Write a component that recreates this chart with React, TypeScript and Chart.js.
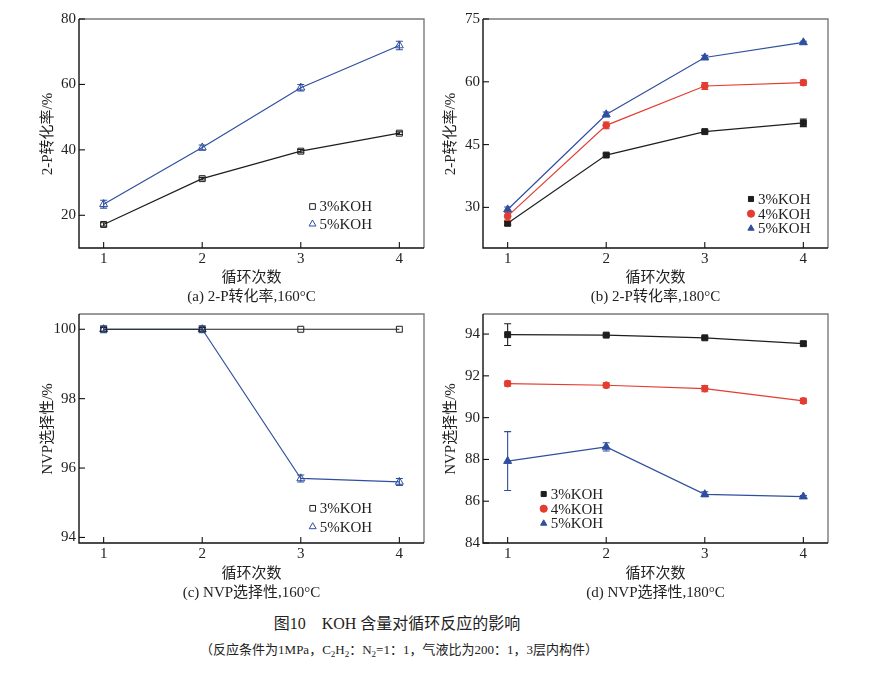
import React, { useEffect, useRef } from "react";
import { Chart, registerables } from "chart.js";

Chart.register(...registerables);

// ---- data ----
const cycles = [1, 2, 3, 4];
const cycleTicks = [1, 2, 3, 4];

// (a) 2-P conversion, 160 °C
const conv160_3 = [17.2, 31.2, 39.6, 45.1];
const conv160_3err = [0.5, 0.4, 0.5, 0.4];
const conv160_5 = [23.4, 40.7, 59.0, 71.9];
const conv160_5err = [1.2, 0.8, 1.0, 1.3];
const convTicks160 = [20, 40, 60, 80];

// (b) 2-P conversion, 180 °C
const conv180_3 = [26.2, 42.5, 48.1, 50.2];
const conv180_3err = [0.5, 0.3, 0.3, 0.9];
const conv180_4 = [27.9, 49.6, 59.0, 59.8];
const conv180_4err = [1.0, 0.8, 0.8, 0.6];
const conv180_5 = [29.5, 52.2, 65.8, 69.4];
const conv180_5err = [0.6, 0.6, 0.5, 0.3];
const convTicks180 = [30, 45, 60, 75];

// (c) NVP selectivity, 160 °C
const sel160_3 = [100, 100, 100, 100];
const sel160_3err = [0.05, 0.05, 0, 0];
const sel160_5 = [100, 100, 95.7, 95.6];
const sel160_5err = [0.1, 0.1, 0.1, 0.1];
const selTicks160 = [94, 96, 98, 100];

// (d) NVP selectivity, 180 °C
const sel180_3 = [93.97, 93.95, 93.82, 93.54];
const sel180_3err = [0.52, 0.05, 0.05, 0.1];
const sel180_4 = [91.63, 91.55, 91.39, 90.8];
const sel180_4err = [0.12, 0.12, 0.15, 0.12];
const sel180_5 = [87.92, 88.6, 86.33, 86.22];
const sel180_5err = [1.41, 0.2, 0.12, 0.05];
const selTicks180 = [84, 86, 88, 90, 92, 94];

const labels2 = ["3%KOH", "5%KOH"];
const labels3 = ["3%KOH", "4%KOH", "5%KOH"];

// ---- styling ----
const SERIF = "'Liberation Serif', 'Times New Roman', 'Noto Sans CJK SC', serif";
const TEXT = "#222";
const BLACK = "#1e1e1e";
const RED = "#e43c30";
const BLUE = "#2f4f9e";

type MarkerStyle = "rect" | "circle" | "triangle";

interface Series {
  label: string;
  values: number[];
  errors: number[];
  color: string;
  marker: MarkerStyle;
  filled: boolean;
}

interface PanelCfg {
  left: number;
  top: number;
  width: number;
  height: number;
  area: { left: number; top: number; right: number; bottom: number };
  yMin: number;
  yMax: number;
  yTicks: number[];
  series: Series[];
  legend: { x: number; y: number; dy: number };
}

function markerRadius(m: MarkerStyle) {
  if (m === "triangle") return 4.6;
  if (m === "circle") return 3.4;
  return 4.2;
}

function drawMarker(
  ctx: CanvasRenderingContext2D,
  m: MarkerStyle,
  x: number,
  y: number,
  r: number,
  color: string,
  filled: boolean
) {
  ctx.beginPath();
  if (m === "rect") {
    const s = r * Math.SQRT1_2;
    ctx.rect(x - s, y - s, 2 * s, 2 * s);
  } else if (m === "circle") {
    ctx.arc(x, y, r, 0, Math.PI * 2);
  } else {
    ctx.moveTo(x, y - r);
    ctx.lineTo(x + r * 0.866, y + r * 0.5);
    ctx.lineTo(x - r * 0.866, y + r * 0.5);
    ctx.closePath();
  }
  ctx.lineWidth = 1;
  ctx.strokeStyle = color;
  if (filled) {
    ctx.fillStyle = color;
    ctx.fill();
  }
  ctx.stroke();
}

function Panel({ cfg }: { cfg: PanelCfg }) {
  const ref = useRef<HTMLCanvasElement>(null);

  useEffect(() => {
    const { area } = cfg;

    const decorations = {
      id: "decorations",
      afterDatasetsDraw(chart: any) {
        const ctx: CanvasRenderingContext2D = chart.ctx;
        const x = chart.scales.x;
        const y = chart.scales.y;
        ctx.save();
        // error bars
        cfg.series.forEach((s) => {
          ctx.strokeStyle = s.color;
          ctx.lineWidth = 1.1;
          s.values.forEach((v, i) => {
            const e = s.errors[i];
            if (!e) return;
            const px = x.getPixelForValue(cycles[i]);
            const y1 = y.getPixelForValue(v + e);
            const y2 = y.getPixelForValue(v - e);
            ctx.beginPath();
            ctx.moveTo(px, y1);
            ctx.lineTo(px, y2);
            ctx.moveTo(px - 3.5, y1);
            ctx.lineTo(px + 3.5, y1);
            ctx.moveTo(px - 3.5, y2);
            ctx.lineTo(px + 3.5, y2);
            ctx.stroke();
          });
        });
        ctx.restore();
      },
      afterDraw(chart: any) {
        const ctx: CanvasRenderingContext2D = chart.ctx;
        const { left, top, right, bottom } = chart.chartArea;
        const x = chart.scales.x;
        const y = chart.scales.y;
        ctx.save();
        // frame: grey top/right, black left/bottom
        ctx.lineWidth = 1.4;
        ctx.strokeStyle = "#7a7a7a";
        ctx.beginPath();
        ctx.moveTo(left, top);
        ctx.lineTo(right, top);
        ctx.lineTo(right, bottom);
        ctx.stroke();
        ctx.strokeStyle = "#111";
        ctx.beginPath();
        ctx.moveTo(left, top);
        ctx.lineTo(left, bottom);
        ctx.lineTo(right, bottom);
        ctx.stroke();
        // inward tick marks
        ctx.lineWidth = 1.1;
        cycleTicks.forEach((t) => {
          const px = x.getPixelForValue(t);
          ctx.beginPath();
          ctx.moveTo(px, bottom);
          ctx.lineTo(px, bottom - 6);
          ctx.stroke();
        });
        cfg.yTicks.forEach((t) => {
          const py = y.getPixelForValue(t);
          ctx.beginPath();
          ctx.moveTo(left, py);
          ctx.lineTo(left + 6, py);
          ctx.stroke();
        });
        // legend
        ctx.font = `15px ${SERIF}`;
        ctx.textBaseline = "middle";
        ctx.textAlign = "left";
        cfg.series.forEach((s, i) => {
          const mx = left + cfg.legend.x;
          const my = top + cfg.legend.y + i * cfg.legend.dy;
          drawMarker(ctx, s.marker, mx, my, s.filled ? 3.6 : 4, s.color, s.filled);
          ctx.fillStyle = TEXT;
          ctx.fillText(s.label, mx + 7, my + 1);
        });
        ctx.restore();
      },
    };

    const chart = new Chart(ref.current as HTMLCanvasElement, {
      type: "line",
      data: {
        datasets: cfg.series.map((s) => ({
          label: s.label,
          data: cycles.map((c, i) => ({ x: c, y: s.values[i] })),
          borderColor: s.color,
          backgroundColor: s.filled ? s.color : "rgba(255,255,255,0)",
          borderWidth: 1.2,
          pointStyle: s.marker,
          pointRadius: markerRadius(s.marker),
          pointBorderWidth: 1,
          pointBackgroundColor: s.filled ? s.color : "rgba(255,255,255,0)",
          pointBorderColor: s.color,
          tension: 0,
          clip: false as any,
        })),
      },
      options: {
        responsive: false,
        animation: false,
        events: [],
        layout: {
          padding: { left: 0, top: area.top, right: cfg.width - area.right, bottom: 0 },
        },
        plugins: {
          legend: { display: false },
          tooltip: { enabled: false },
        },
        scales: {
          x: {
            type: "linear",
            min: 0.75,
            max: 4.25,
            grid: { display: false, drawTicks: false },
            border: { display: false },
            afterBuildTicks: (s: any) => {
              s.ticks = cycleTicks.map((v) => ({ value: v }));
            },
            afterFit: (s: any) => {
              s.height = cfg.height - area.bottom;
            },
            ticks: {
              padding: 2,
              autoSkip: false,
              maxRotation: 0,
              color: TEXT,
              font: { family: SERIF, size: 15 },
              callback: (v: any) => String(v),
            },
          },
          y: {
            type: "linear",
            min: cfg.yMin,
            max: cfg.yMax,
            grid: { display: false, drawTicks: false },
            border: { display: false },
            afterBuildTicks: (s: any) => {
              s.ticks = cfg.yTicks.map((v) => ({ value: v }));
            },
            afterFit: (s: any) => {
              s.width = area.left;
            },
            ticks: {
              padding: 3,
              autoSkip: false,
              color: TEXT,
              font: { family: SERIF, size: 15 },
              callback: (v: any) => String(v),
            },
          },
        },
      },
      plugins: [decorations],
    });
    return () => chart.destroy();
  }, [cfg]);

  return (
    <canvas
      ref={ref}
      width={cfg.width}
      height={cfg.height}
      style={{ position: "absolute", left: cfg.left, top: cfg.top, width: cfg.width, height: cfg.height }}
    />
  );
}

const panelA: PanelCfg = {
  left: 0, top: 0, width: 440, height: 270,
  area: { left: 79, top: 19, right: 424, bottom: 248 },
  yMin: 10, yMax: 80, yTicks: convTicks160,
  series: [
    { label: labels2[0], values: conv160_3, errors: conv160_3err, color: BLACK, marker: "rect", filled: false },
    { label: labels2[1], values: conv160_5, errors: conv160_5err, color: BLUE, marker: "triangle", filled: false },
  ],
  legend: { x: 233.5, y: 187.5, dy: 17.5 },
};

const panelB: PanelCfg = {
  left: 440, top: 0, width: 456, height: 270,
  area: { left: 43, top: 19, right: 388, bottom: 248 },
  yMin: 20.3, yMax: 75, yTicks: convTicks180,
  series: [
    { label: labels3[0], values: conv180_3, errors: conv180_3err, color: BLACK, marker: "rect", filled: true },
    { label: labels3[1], values: conv180_4, errors: conv180_4err, color: RED, marker: "circle", filled: true },
    { label: labels3[2], values: conv180_5, errors: conv180_5err, color: BLUE, marker: "triangle", filled: true },
  ],
  legend: { x: 268, y: 180, dy: 14.7 },
};

const panelC: PanelCfg = {
  left: 0, top: 300, width: 440, height: 270,
  area: { left: 79, top: 14, right: 424, bottom: 243 },
  yMin: 93.84, yMax: 100.44, yTicks: selTicks160,
  series: [
    { label: labels2[0], values: sel160_3, errors: sel160_3err, color: BLACK, marker: "rect", filled: false },
    { label: labels2[1], values: sel160_5, errors: sel160_5err, color: BLUE, marker: "triangle", filled: false },
  ],
  legend: { x: 233.7, y: 194.3, dy: 18.4 },
};

const panelD: PanelCfg = {
  left: 440, top: 300, width: 456, height: 270,
  area: { left: 43, top: 14, right: 388, bottom: 243 },
  yMin: 84, yMax: 94.96, yTicks: selTicks180,
  series: [
    { label: labels3[0], values: sel180_3, errors: sel180_3err, color: BLACK, marker: "rect", filled: true },
    { label: labels3[1], values: sel180_4, errors: sel180_4err, color: RED, marker: "circle", filled: true },
    { label: labels3[2], values: sel180_5, errors: sel180_5err, color: BLUE, marker: "triangle", filled: true },
  ],
  legend: { x: 60.7, y: 180, dy: 14.7 },
};

function Label({
  x, y, text, size = 15, rotate = false, children,
}: { x: number; y: number; text?: string; size?: number; rotate?: boolean; children?: React.ReactNode }) {
  return (
    <div
      style={{
        position: "absolute",
        left: x,
        top: y,
        transform: `translate(-50%, -50%)${rotate ? " rotate(-90deg)" : ""}`,
        whiteSpace: "nowrap",
        fontFamily: SERIF,
        fontSize: size,
        lineHeight: 1,
        color: TEXT,
      }}
    >
      {text}
      {children}
    </div>
  );
}

export default function App() {
  return (
    <div
      style={{
        position: "absolute",
        left: 0,
        top: 0,
        width: 896,
        height: 678,
        background: "#fff",
        overflow: "hidden",
      }}
    >
      <Panel cfg={panelA} />
      <Panel cfg={panelB} />
      <Panel cfg={panelC} />
      <Panel cfg={panelD} />

      <Label x={47} y={133.5} text="2-P转化率/%" rotate />
      <Label x={450} y={133.5} text="2-P转化率/%" rotate />
      <Label x={47} y={428.5} text="NVP选择性/%" rotate />
      <Label x={450} y={428.5} text="NVP选择性/%" rotate />

      <Label x={251.5} y={277} text="循环次数" />
      <Label x={655.5} y={277} text="循环次数" />
      <Label x={251.5} y={573} text="循环次数" />
      <Label x={655.5} y={573} text="循环次数" />

      <Label x={251.5} y={296} text="(a) 2-P转化率,160°C" />
      <Label x={655.5} y={296} text="(b) 2-P转化率,180°C" />
      <Label x={251.5} y={592} text="(c) NVP选择性,160°C" />
      <Label x={655.5} y={592} text="(d) NVP选择性,180°C" />

      <Label x={397} y={624} size={16} text="图10　KOH 含量对循环反应的影响" />
      <Label x={399} y={651} size={13}>
        （反应条件为1MPa，C<sub style={{ fontSize: 9 }}>2</sub>H<sub style={{ fontSize: 9 }}>2</sub>：N
        <sub style={{ fontSize: 9 }}>2</sub>=1：1，气液比为200：1，3层内构件）
      </Label>
    </div>
  );
}
